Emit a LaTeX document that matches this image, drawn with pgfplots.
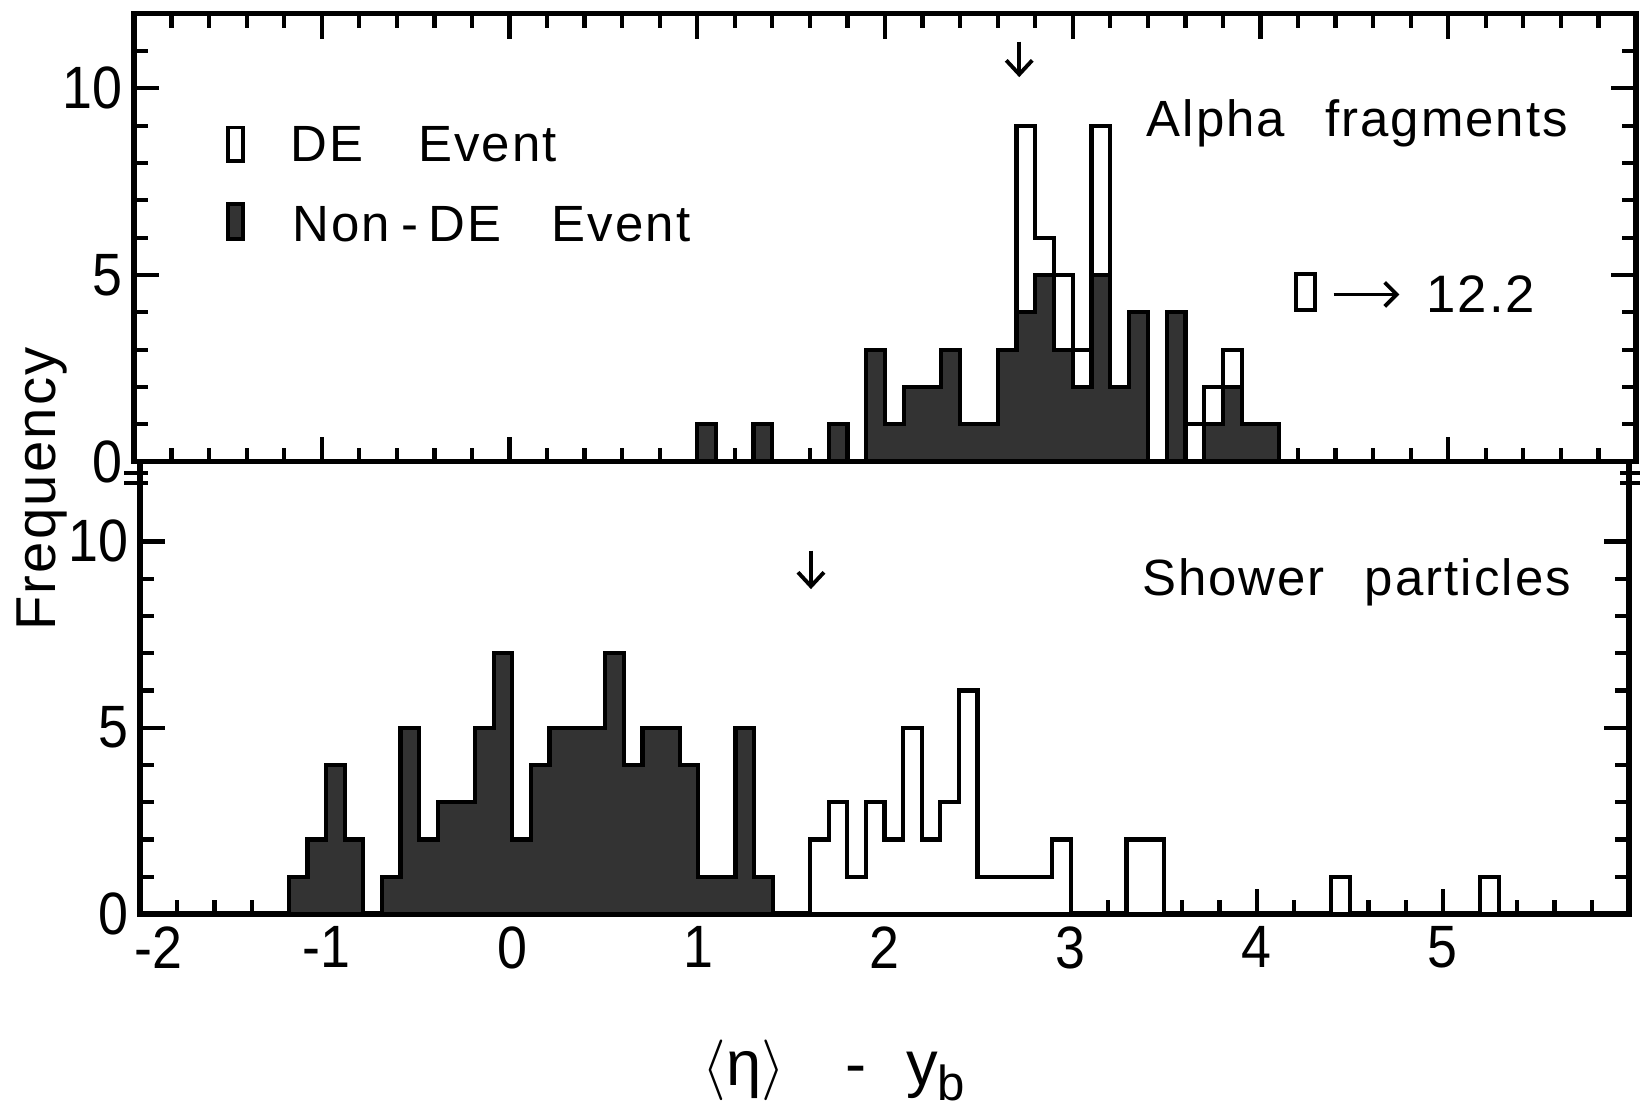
\documentclass[border=0pt]{standalone}
\usepackage{pgfplots}
\pgfplotsset{compat=1.18}
\usepackage{fontspec}
\setmainfont{Liberation Sans}[LetterSpace=4]
\newfontfamily\tickfont{Liberation Sans}[FakeStretch=0.9]
\usetikzlibrary{arrows.meta}

\pgfplotsset{
  panel/.style={
    scale only axis,
    xmin=-2, xmax=6,
    ymin=0,
    tick align=inside,
    major tick length=0.25cm,
    minor tick length=0.14cm,
    axis line style={line width=1.5pt},
    tick style={black, line width=1.2pt},
    minor xtick={-1.8,-1.6,...,5.9},
    ytick={0,5,10},
    yticklabels={0,5,10},
    tick label style={font=\tickfont\fontsize{17}{17}\selectfont},
    yticklabel style={inner sep=1pt, xshift=-0.07cm},
  },
  total/.style={const plot mark left, fill=white, draw=black, line width=1.2pt},
  nonde/.style={const plot mark left, fill=black!80, draw=black, line width=1.2pt},
}

\begin{document}
\begin{tikzpicture}
\useasboundingbox (0,0) rectangle (16.42,11.08);

% ---------------- top panel: Alpha fragments ----------------
\begin{axis}[panel,
  at={(1.34cm,6.463cm)}, anchor=south west,
  width=15.02cm, height=4.48cm, ymax=12,
  xtick={-2,...,6}, xticklabels={},
  minor ytick={1,2,3,4,6,7,8,9,11},
]
\addplot[total] coordinates {
 (1.0,1) (1.1,0) (1.2,0) (1.3,1) (1.4,0) (1.5,0) (1.6,0) (1.7,1) (1.8,0)
 (1.9,3) (2.0,1) (2.1,2) (2.2,2) (2.3,3) (2.4,1) (2.5,1) (2.6,3) (2.7,9)
 (2.8,6) (2.9,5) (3.0,3) (3.1,9) (3.2,2) (3.3,4) (3.4,0) (3.5,4) (3.6,1)
 (3.7,2) (3.8,3) (3.9,1) (4.0,1) (4.1,0)} \closedcycle;
\addplot[nonde] coordinates {
 (1.0,1) (1.1,0) (1.2,0) (1.3,1) (1.4,0) (1.5,0) (1.6,0) (1.7,1) (1.8,0)
 (1.9,3) (2.0,1) (2.1,2) (2.2,2) (2.3,3) (2.4,1) (2.5,1) (2.6,3) (2.7,4)
 (2.8,5) (2.9,3) (3.0,2) (3.1,5) (3.2,2) (3.3,4) (3.4,0) (3.5,4) (3.6,0)
 (3.7,1) (3.8,2) (3.9,1) (4.0,1) (4.1,0)} \closedcycle;

% legend
\draw[line width=1.1pt] (axis cs:-1.50,8.05) rectangle (axis cs:-1.42,8.95);
\filldraw[fill=black!80, draw=black, line width=1.1pt] (axis cs:-1.50,5.97) rectangle (axis cs:-1.42,6.90);
\node[anchor=base west, inner sep=0pt, font=\fontsize{14.5}{14.5}\selectfont] at (axis cs:-1.17,8.03) {DE\hspace{0.55cm}Event};
\node[anchor=base west, inner sep=0pt, font=\fontsize{14.5}{14.5}\selectfont] at (axis cs:-1.16,5.91) {Non\hspace{0.12cm}-\hspace{0.1cm}DE\hspace{0.5cm}Event};

\node[anchor=base west, inner sep=0pt, font=\fontsize{14.5}{14.5}\selectfont] at (axis cs:3.39,8.72) {Alpha\hspace{0.4cm}fragments};

% open box -> 12.2
\draw[line width=1.1pt] (axis cs:4.19,4.06) rectangle (axis cs:4.29,5.03);
\draw[line width=1.1pt, -{Straight Barb[length=0.12cm, width=0.24cm]}] (axis cs:4.39,4.48) -- (axis cs:4.74,4.48);
\node[anchor=base west, inner sep=0pt, font=\fontsize{15}{15}\selectfont] at (axis cs:4.88,4.0) {12.2};

% down arrow
\draw[line width=1.1pt, -{Straight Barb[length=0.14cm, width=0.26cm]}] (axis cs:2.715,11.25) -- (axis cs:2.715,10.3);
\end{axis}

% ---------------- bottom panel: Shower particles ----------------
\begin{axis}[panel,
  at={(1.40cm,1.94cm)}, anchor=south west,
  width=14.89cm, height=4.523cm, ymax=12.14,
  xtick={-2,...,5}, xticklabels={\hspace{0.36cm}-2,-1,0,1,2,3,4,5},
  xtick pos=left,
  minor ytick={1,2,3,4,6,7,8,9},
]
\addplot[nonde] coordinates {
 (-1.2,1) (-1.1,2) (-1.0,4) (-0.9,2) (-0.8,0) (-0.7,1) (-0.6,5) (-0.5,2)
 (-0.4,3) (-0.3,3) (-0.2,5) (-0.1,7) (0.0,2) (0.1,4) (0.2,5) (0.3,5) (0.4,5)
 (0.5,7) (0.6,4) (0.7,5) (0.8,5) (0.9,4) (1.0,1) (1.1,1) (1.2,5) (1.3,1) (1.4,0)} \closedcycle;
\addplot[total] coordinates {
 (1.6,2) (1.7,3) (1.8,1) (1.9,3) (2.0,2) (2.1,5) (2.2,2) (2.3,3) (2.4,6)
 (2.5,1) (2.6,1) (2.7,1) (2.8,1) (2.9,2) (3.0,0)} \closedcycle;
\addplot[total] coordinates {(3.3,2) (3.4,2) (3.5,0)} \closedcycle;
\addplot[total] coordinates {(4.4,1) (4.5,0)} \closedcycle;
\addplot[total] coordinates {(5.2,1) (5.3,0)} \closedcycle;

\node[anchor=base west, inner sep=0pt, font=\fontsize{14.5}{14.5}\selectfont] at (axis cs:3.38,8.56) {Shower\hspace{0.4cm}particles};

\draw[line width=1.1pt, -{Straight Barb[length=0.14cm, width=0.26cm]}] (axis cs:1.605,9.75) -- (axis cs:1.605,8.72);
\end{axis}

% axis break marks
\draw[line width=1.1pt] (1.24,6.35) -- (1.48,6.35);
\draw[line width=1.1pt] (1.24,6.25) -- (1.48,6.25);
\draw[line width=1.1pt] (16.20,6.35) -- (16.40,6.35);
\draw[line width=1.1pt] (16.20,6.25) -- (16.40,6.25);

% axis labels
\node[rotate=90, inner sep=0pt, font=\fontsize{16}{16}\selectfont] at (0.42,6.19) {Frequency};
\node[inner sep=0pt, font=\fontsize{18}{18}\selectfont] at (8.34,0.38)
  {$\langle$η$\rangle$\hspace{0.6cm}-\hspace{0.4cm}y\raisebox{-0.15cm}{\fontsize{14}{14}\selectfont b}};
\end{tikzpicture}
\end{document}
